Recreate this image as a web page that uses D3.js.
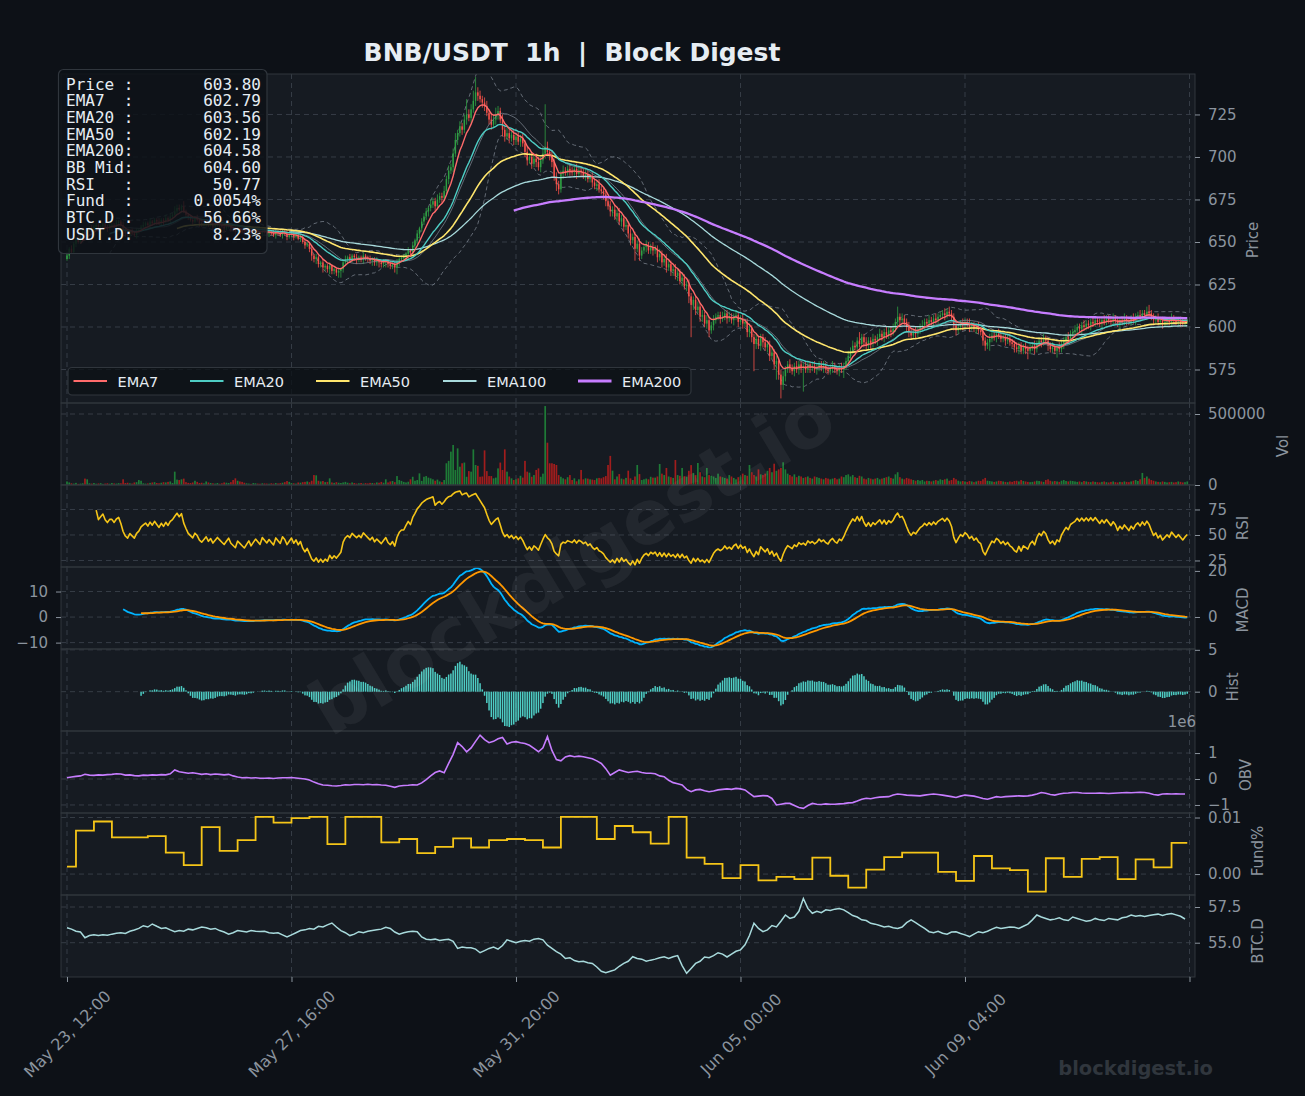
<!DOCTYPE html>
<html><head><meta charset="utf-8">
<script src="https://cdn.jsdelivr.net/npm/d3@7"></script>
<style>
html,body{margin:0;padding:0;background:#0d1117;}
svg{display:block;}
text{font-family:"DejaVu Sans",sans-serif;}
</style></head><body>
<svg id="chart" width="1305" height="1096"></svg>
<script>
// ---------------- DATA ----------------
const START_UTC = Date.UTC(2025, 4, 23, 12); // first candle: May 23, 12:00 (1h candles)
const OPEN0 = 640;
const CLOSE = [
642,646,644,649,652,650,654,656,653,657,
658,656,659,660,657,659,661,659,658,660,
660,659,661,662,660,657,655,654,656,655,
654,656,657,659,660,661,660,662,661,663,
662,661,663,662,664,663,665,666,668,670,
669,671,668,666,664,663,662,664,663,661,
660,661,662,660,661,659,660,661,660,659,
658,659,660,658,657,656,658,657,656,655,
656,657,655,656,657,656,655,657,656,655,
656,655,654,656,655,654,656,655,653,654,
655,653,654,652,653,650,648,649,646,642,
640,641,637,638,635,636,634,636,633,634,
632,633,634,638,640,641,640,642,641,640,
641,640,642,641,640,639,640,638,639,638,
637,638,639,637,636,637,635,638,640,641,
641,643,645,644,648,651,655,658,662,665,
668,670,672,674,671,675,677,676,680,687,
692,694,702,710,714,718,716,722,725,723,
728,733,738,736,734,732,730,726,722,719,
722,725,727,722,716,712,714,711,713,710,
712,709,711,708,703,698,700,696,699,697,
694,698,702,706,703,701,697,688,684,681,
690,692,691,693,692,691,693,690,692,691,
689,690,687,688,685,683,684,681,680,678,
674,671,668,669,665,667,662,664,659,660,
655,651,653,646,649,642,645,647,648,645,
647,645,646,641,643,638,640,635,637,633,
634,630,632,627,629,624,625,618,613,616,
610,612,606,607,602,604,598,601,604,606,
607,605,606,608,605,606,604,606,607,603,
605,602,603,597,599,594,590,593,589,594,
591,588,590,583,585,578,580,572,566,571,
575,578,576,574,577,575,578,576,577,575,
578,576,577,575,576,578,576,577,575,574,
576,577,575,574,576,575,577,580,583,586,
589,588,592,590,594,591,589,592,590,593,
592,594,596,594,597,595,598,597,599,603,
606,604,605,603,600,597,595,597,596,598,
600,601,603,602,604,603,605,604,606,607,
608,607,609,608,606,601,598,600,602,601,
603,602,600,601,599,600,598,597,592,589,
591,593,595,594,596,595,593,594,592,593,
591,590,588,587,589,586,588,587,586,588,
589,587,590,592,591,593,592,589,587,588,
586,588,587,590,592,594,593,596,597,598,
600,599,601,600,602,601,603,602,604,603,
602,604,603,605,604,603,605,604,602,604,
603,605,604,603,605,604,606,607,606,608,
607,609,608,606,604,605,603,604,602,603,
604,603,605,604,603,604,603,602,603,603.8];
// upper / lower wick length beyond the body (price units)
const HI_WICK = [
2,1,2,1,1,2,1,1,2,1, 1,2,1,1,2,1,1,2,1,1, 1,1,2,1,1,2,1,1,1,2, 1,2,1,1,2,1,1,2,1,1, 1,2,1,1,2,1,2,1,3,2,
2,1,3,1,1,2,1,1,2,1, 1,2,1,1,2,1,1,2,1,1, 1,1,2,1,1,2,1,1,2,1, 1,2,1,1,2,1,1,2,1,1, 1,1,2,1,1,2,1,1,2,1,
2,1,1,2,1,1,2,1,1,2, 1,2,1,1,2,1,1,2,1,1, 1,2,1,1,2,1,2,1,1,2, 1,1,2,1,1,2,1,1,2,1, 1,2,1,1,2,1,1,2,1,1,
2,1,2,1,2,1,2,1,2,2, 2,1,3,2,2,3,2,2,3,2, 3,2,3,4,2,3,2,3,9,3, 3,6,9,3,3,2,3,3,2,4, 3,4,3,2,3,2,3,2,2,3,
2,3,2,3,2,3,2,3,2,3, 3,2,4,25,3,2,3,2,3,2, 2,3,2,2,3,2,2,3,2,2, 2,3,2,2,3,2,2,3,2,2, 3,2,3,2,3,2,3,2,2,3,
2,3,2,3,2,3,2,2,3,2, 2,3,2,2,3,2,2,3,2,2, 2,3,2,2,3,2,2,3,2,2, 2,3,2,3,2,3,2,2,3,2, 2,2,3,2,2,3,2,2,3,2,
2,3,2,2,3,2,2,3,2,2, 2,3,2,2,3,2,3,2,3,3, 2,2,3,2,2,3,2,2,2,3, 2,2,2,3,2,2,2,3,2,2, 2,3,2,2,2,3,2,2,3,2,
3,2,2,5,2,2,3,2,2,3, 2,2,3,2,2,3,2,2,3,2, 6,2,3,2,2,3,2,2,3,2, 2,3,2,2,3,2,2,3,2,2, 2,3,2,3,2,2,3,2,2,3,
2,2,3,2,2,2,3,2,2,2, 2,3,2,2,2,3,2,2,2,3, 2,2,2,3,2,2,2,3,2,2, 2,3,2,2,2,3,2,2,2,3, 2,2,3,2,2,2,3,2,2,3,
2,2,2,3,2,2,2,3,2,2, 2,2,3,2,2,2,3,2,2,2, 2,3,2,2,2,3,2,2,3,2, 2,3,4,2,2,2,3,2,2,2, 2,2,3,2,2,2,2,3,2,1];
const LO_WICK = [
1,2,1,1,2,1,1,2,1,2, 1,1,2,1,1,2,1,1,2,1, 2,1,1,2,1,1,2,1,2,1, 1,2,1,1,2,1,1,2,1,1, 2,1,1,2,1,1,2,1,1,2,
1,2,1,2,1,1,2,1,1,2, 1,1,2,1,1,2,1,1,2,1, 2,1,1,2,1,3,1,2,1,1, 1,2,1,1,2,1,1,2,1,1, 2,1,1,2,1,1,2,1,2,1,
1,2,1,1,2,1,2,1,2,3, 2,3,2,2,3,2,2,3,2,2, 2,3,4,2,2,3,2,2,2,3, 2,2,3,2,2,2,3,2,2,3, 2,2,3,2,2,2,3,4,2,2,
2,2,3,2,2,2,2,3,2,2, 2,3,2,2,3,2,2,3,2,2, 3,2,3,2,3,2,3,2,3,2, 3,2,3,3,2,3,3,2,3,3, 2,3,3,2,4,3,2,3,2,3,
3,2,3,2,3,3,2,3,2,3, 2,3,2,3,2,3,3,2,4,3, 2,3,2,2,3,2,2,3,2,2, 2,3,2,2,3,2,3,2,2,3, 3,2,3,3,2,3,2,3,3,2,
3,3,2,7,2,3,2,2,3,2, 2,3,2,3,2,3,2,3,2,3, 3,2,3,2,3,2,3,4,19,3, 3,2,3,3,2,3,4,2,3,2, 2,3,2,2,3,2,2,3,2,3,
2,3,2,3,3,3,16,3,2,3, 3,2,3,3,2,3,9,3,8,3, 3,2,3,2,3,2,3,3,14,2, 2,3,2,2,3,2,2,3,2,2, 2,3,2,2,3,2,5,2,2,3,
2,2,3,2,2,3,2,2,3,2, 2,3,2,2,3,2,2,3,2,2, 2,3,2,2,3,3,2,2,3,2, 2,2,3,2,2,2,3,2,2,2, 2,3,2,2,2,3,3,2,2,3,
2,2,3,2,2,3,2,2,3,3, 2,5,2,2,3,2,2,2,3,2, 2,2,3,2,3,2,2,3,5,2, 2,3,2,2,3,2,2,3,2,2, 2,4,2,2,3,2,2,2,3,2,
2,2,3,2,2,2,3,2,2,2, 2,3,2,2,2,3,2,2,2,3, 2,2,3,2,2,2,3,2,2,2, 2,3,2,2,3,2,2,2,3,2, 2,2,3,2,2,2,3,2,2,1];
// hourly volume, thousands
const VOLUME_K = [
25,18,12,10,15,8,10,12,45,40, 12,10,14,9,11,13,8,10,12,9, 14,11,10,13,12,40,14,16,12,10, 18,20,35,30,12,10,11,15,18,20, 14,12,16,20,18,22,25,14,94,38,
35,40,45,20,15,14,18,30,22,14, 16,12,25,18,14,12,10,14,9,12, 18,16,14,20,35,47,30,25,22,16, 12,10,8,14,12,10,9,12,11,10, 9,12,10,14,11,13,16,20,28,22,
14,12,10,18,16,20,22,25,20,30, 70,68,30,25,28,20,22,47,18,15, 20,16,14,18,22,16,12,18,14,10, 12,14,10,13,11,15,14,12,18,16, 22,16,40,18,25,28,20,63,35,29,
22,18,23,40,58,30,35,82,29,58, 63,52,47,40,30,38,25,20,35,153, 170,235,282,106,258,129,153,158,58,98, 94,251,141,135,58,60,244,98,63,63, 47,52,117,158,106,251,94,60,47,35,
40,47,65,52,170,94,87,58,70,106, 117,58,80,556,298,153,153,148,141,70, 58,47,40,55,70,35,47,26,40,106, 40,47,45,40,38,35,47,50,47,55, 63,141,205,101,40,60,77,45,40,50,
101,47,35,60,141,77,35,40,45,40, 58,52,52,60,148,80,70,120,60,55, 50,176,70,65,120,62,58,100,140,85, 70,155,90,60,55,120,70,65,60,50, 80,60,55,50,45,70,60,50,40,55,
60,80,70,65,141,90,70,60,110,75, 70,80,100,120,90,150,100,110,120,160, 110,80,70,60,75,55,65,60,50,55, 60,50,45,60,55,50,45,40,50,45, 40,45,50,40,45,60,55,70,75,60,
70,55,50,65,60,45,40,50,45,40, 45,50,40,45,50,55,60,50,45,75, 90,55,45,40,50,45,40,35,30,35, 30,35,25,30,28,25,30,35,30,40, 35,40,45,30,35,50,40,30,25,28,
25,22,28,25,20,25,30,28,40,50, 30,28,25,22,25,30,28,25,22,20, 25,22,28,30,25,35,28,25,22,20, 22,25,30,28,25,22,35,40,30,25, 28,25,22,30,35,28,25,30,28,25,
22,25,20,28,25,22,20,25,22,20, 18,22,25,20,18,22,25,20,18,22, 20,25,22,20,25,30,35,28,40,85, 50,60,45,35,30,25,22,20,25,22, 18,20,22,18,20,25,22,18,20,25];
// OBV (millions), every 2 hours
const OBV_M_2H = [
0.05,0.08,0.10,0.12,0.18,0.15,0.14,0.16,0.15,0.17,
0.18,0.20,0.19,0.15,0.16,0.13,0.12,0.15,0.14,0.16,
0.15,0.17,0.16,0.20,0.35,0.28,0.25,0.22,0.24,0.21,
0.18,0.20,0.17,0.19,0.18,0.16,0.18,0.12,0.08,0.05,
0.06,0.04,0.05,0.03,0.03,0.04,0.02,0.04,0.05,0.05,
0.06,0.04,0.02,0.00,-0.04,-0.12,-0.18,-0.23,-0.24,-0.26,
-0.27,-0.25,-0.22,-0.23,-0.21,-0.21,-0.22,-0.20,-0.22,-0.21,
-0.23,-0.24,-0.28,-0.32,-0.27,-0.25,-0.24,-0.22,-0.23,-0.15,
-0.02,0.12,0.25,0.31,0.24,0.60,0.95,1.40,1.25,1.05,
1.20,1.45,1.69,1.52,1.40,1.45,1.55,1.60,1.35,1.42,
1.44,1.40,1.37,1.30,1.18,1.05,1.20,1.63,1.10,0.75,
0.70,0.85,0.90,0.86,0.88,0.86,0.82,0.78,0.70,0.60,
0.40,0.15,0.25,0.35,0.30,0.25,0.28,0.30,0.25,0.22,
0.22,0.20,0.12,0.09,-0.05,-0.14,-0.18,-0.23,-0.40,-0.49,
-0.42,-0.40,-0.45,-0.49,-0.46,-0.42,-0.40,-0.38,-0.40,-0.36,
-0.38,-0.42,-0.55,-0.68,-0.66,-0.64,-0.65,-0.75,-1.00,-0.97,
-0.94,-0.94,-1.02,-1.10,-1.13,-1.02,-0.94,-0.97,-0.98,-0.96,
-0.97,-0.97,-0.96,-0.95,-0.92,-0.91,-0.85,-0.78,-0.74,-0.76,
-0.72,-0.70,-0.69,-0.68,-0.62,-0.58,-0.60,-0.62,-0.63,-0.64,
-0.65,-0.62,-0.60,-0.58,-0.60,-0.62,-0.65,-0.68,-0.71,-0.66,
-0.62,-0.64,-0.66,-0.70,-0.75,-0.78,-0.73,-0.68,-0.70,-0.68,
-0.67,-0.66,-0.65,-0.66,-0.65,-0.62,-0.58,-0.52,-0.55,-0.60,
-0.62,-0.58,-0.55,-0.54,-0.52,-0.52,-0.54,-0.55,-0.55,-0.55,
-0.54,-0.55,-0.56,-0.55,-0.54,-0.53,-0.52,-0.53,-0.52,-0.51,
-0.52,-0.55,-0.60,-0.62,-0.58,-0.57,-0.58,-0.57,-0.58,-0.58];
// BTC dominance (%), every 2 hours
const BTCD_2H = [
56.05,55.95,55.80,55.75,55.35,55.50,55.55,55.50,55.55,55.52,
55.60,55.66,55.70,55.65,55.80,55.89,56.00,56.19,56.10,56.31,
56.15,56.00,56.05,55.90,55.77,55.85,55.80,55.95,55.90,56.00,
56.10,56.05,55.95,56.00,55.85,55.75,55.60,55.70,55.85,55.80,
55.75,55.85,55.80,55.78,55.80,55.70,55.66,55.70,55.55,55.40,
55.55,55.70,55.85,55.90,56.00,55.95,56.15,56.10,56.25,56.38,
56.10,55.85,55.70,55.50,55.60,55.77,55.70,55.80,55.85,55.90,
55.95,56.08,56.00,55.75,55.60,55.70,55.77,55.80,55.77,55.40,
55.24,55.20,55.25,55.15,55.20,55.24,55.10,54.60,54.70,54.65,
54.65,54.55,54.30,54.45,54.60,54.70,54.55,54.80,55.20,55.10,
55.00,55.10,55.15,55.10,55.25,55.30,55.20,54.83,54.60,54.37,
54.20,53.90,53.95,53.75,53.67,53.70,53.60,53.55,53.30,53.00,
52.90,53.00,53.10,53.35,53.55,53.70,54.02,53.90,53.85,53.70,
53.78,53.85,53.95,54.02,53.90,54.02,54.10,53.40,52.86,53.20,
53.55,53.70,54.00,53.95,54.10,54.30,54.20,54.00,54.20,54.40,
54.50,54.85,55.50,56.36,56.00,55.77,55.90,56.20,56.10,56.50,
56.94,56.70,56.80,57.20,58.10,57.40,57.06,57.20,57.10,57.30,
57.25,57.35,57.40,57.30,57.10,56.90,56.80,56.60,56.55,56.36,
56.30,56.20,56.10,56.15,56.05,56.00,56.10,56.40,56.60,56.40,
56.20,56.00,55.77,55.70,55.80,55.66,55.60,55.75,55.77,55.65,
55.55,55.43,55.60,55.77,55.70,55.80,55.95,56.08,56.00,56.05,
56.10,56.08,56.00,56.15,56.30,56.60,56.94,56.80,56.70,56.60,
56.65,56.75,56.60,56.55,56.80,56.70,56.60,56.50,56.55,56.70,
56.60,56.55,56.70,56.65,56.60,56.75,56.80,56.94,56.85,56.90,
56.83,56.90,56.95,57.00,56.90,57.00,57.05,56.95,56.85,56.66];
// funding rate (%), 8-hourly steps: start hour index and value
const FUND_START = [0,4,12,20,36,44,52,60,68,76,84,92,100,108,116,124,140,148,156,164,172,180,188,196,204,212,220,236,244,252,260,268,276,284,292,300,308,316,324,332,340,348,356,364,372,388,396,404,412,420,428,436,444,452,460,468,476,484,492];
const FUND_VAL = [0.0013,0.0077,0.0093,0.0065,0.0067,0.0038,0.0016,0.0083,0.0041,0.0060,0.0101,0.0091,0.0099,0.0101,0.0053,0.0101,0.0056,0.0062,0.0037,0.0048,0.0063,0.0047,0.0060,0.0062,0.0060,0.0047,0.0101,0.0062,0.0085,0.0074,0.0054,0.0101,0.0029,0.0018,-0.0007,0.0016,-0.0011,-0.0005,-0.0009,0.0029,-0.0003,-0.0024,0.0008,0.0030,0.0038,0.0004,-0.0012,0.0032,0.0010,0.0007,-0.0031,0.0028,-0.0005,0.0027,0.0030,-0.0009,0.0026,0.0012,0.0055];
// ticks / labels
const X_TICK_HOURS = [0,100,200,300,400,500];
const X_TICK_SHOW = [true,true,true,true,true,false];
const PRICE_TICKS = [575,600,625,650,675,700,725];
const VOL_TICKS = [0,500000];
const RSI_TICKS = [25,50,75];
const MACD_TICKS_L = [-10,0,10];
const MACD_TICKS_R = [0,20];
const HIST_TICKS = [0,5];
const OBV_TICKS = [-1,0,1];
const FUND_TICKS = [0,0.01];
const BTCD_TICKS = [55,57.5];
const LEGEND_NAMES = ["EMA7","EMA20","EMA50","EMA100","EMA200"];
const INFO_LABELS = ["Price :","EMA7  :","EMA20 :","EMA50 :","EMA200:","BB Mid:","RSI   :","Fund  :","BTC.D :","USDT.D:"];
const INFO_VALUES = ["603.80","602.79","603.56","602.19","604.58","604.60","50.77","0.0054%","56.66%","8.23%"];
const TITLE = "BNB/USDT  1h  |  Block Digest";

// ---------------- styles ----------------
const C = {bg:"#0d1117", ax:"#161b22", spine:"#30363d", grid:"#3a414b", tick:"#8b949e",
  up:"#2ea043", dn:"#f85149", vup:"#1e7b37", vdn:"#a11d1d",
  ema7:"#ff6b6b", ema20:"#4ecdc4", ema50:"#ffe66d", ema100:"#a8dadc", ema200:"#c77dff",
  bb:"#7d8590", rsi:"#f5c518", macd:"#00b4ff", sig:"#ff9800", hist:"#4ecdc4", obv:"#c77dff", fund:"#f5c518", btcd:"#a8dadc"};
const EMA_STYLE = {EMA7:[C.ema7,1.4],EMA20:[C.ema20,1.4],EMA50:[C.ema50,1.6],EMA100:[C.ema100,1.3],EMA200:[C.ema200,2.3]};

// ---------------- indicators ----------------
function ewm(src, alpha, minP){ let e=null,cnt=0; return src.map(v=>{ if(v==null) return null; e = e==null? v : alpha*v+(1-alpha)*e; cnt++; return cnt>=minP? e : null; }); }
const ema = (src,span)=>ewm(src,2/(span+1),span);
const N = CLOSE.length;
const OPEN = CLOSE.map((c,i)=> i? CLOSE[i-1] : OPEN0);
const HIGH = CLOSE.map((c,i)=> Math.max(c,OPEN[i]) + HI_WICK[i]);
const LOW = CLOSE.map((c,i)=> Math.min(c,OPEN[i]) - LO_WICK[i]);
const EMAS = {EMA7:ema(CLOSE,7),EMA20:ema(CLOSE,20),EMA50:ema(CLOSE,50),EMA100:ema(CLOSE,100),EMA200:ema(CLOSE,200)};
const BBM=[],BBU=[],BBL=[];
for(let i=0;i<N;i++){ if(i<19){BBM.push(null);BBU.push(null);BBL.push(null);continue;} const w=CLOSE.slice(i-19,i+1); const m=d3.mean(w), s=d3.deviation(w); BBM.push(m);BBU.push(m+2*s);BBL.push(m-2*s);}
const delta = CLOSE.map((c,i)=> i? c-CLOSE[i-1] : 0);
const ag = ewm(delta.map(d=>Math.max(d,0)),1/14,14), al = ewm(delta.map(d=>Math.max(-d,0)),1/14,14);
const RSI = ag.map((g,i)=> g==null? null : (al[i]===0?100:100-100/(1+g/al[i])));
const e12=ema(CLOSE,12), e26=ema(CLOSE,26);
const MACD = e12.map((v,i)=> (v==null||e26[i]==null)? null : v-e26[i]);
const SIGNAL = ewm(MACD,2/10,9);
const HIST = MACD.map((m,i)=> (m==null||SIGNAL[i]==null)? null : m-SIGNAL[i]);

// ---------------- layout ----------------
const W=1305, H=1096, L=61, R=1195;
const HOUR=3600e3;
const svg=d3.select('#chart');
svg.append('rect').attr('width',W).attr('height',H).attr('fill',C.bg);
const x=d3.scaleUtc().domain([new Date(START_UTC-2.67*HOUR), new Date(START_UTC+502.45*HOUR)]).range([L,R]);
const tAt=i=>new Date(START_UTC+i*HOUR);
const xi=i=>x(tAt(i));
const PANELS={price:[74,403],vol:[403,485],rsi:[485,567],macd:[567,649],hist:[649,731],obv:[731,813],fund:[813,895],btcd:[895,977]};
const Y={
 price:d3.scaleLinear().domain([555.3,748.8]).range([403,74]),
 vol:d3.scaleLinear().domain([0,577500]).range([485,403]),
 rsi:d3.scaleLinear().domain([18.6,99]).range([567,485]),
 macd:d3.scaleLinear().domain([-12.5,19.6]).range([649,567]),
 macdR:d3.scaleLinear().domain([-13.9,21.7]).range([649,567]),
 hist:d3.scaleLinear().domain([-4.7,5.1]).range([731,649]),
 obv:d3.scaleLinear().domain([-1.31,1.85]).range([813,731]),
 fund:d3.scaleLinear().domain([-0.0037,0.0108]).range([895,813]),
 btcd:d3.scaleLinear().domain([52.6,58.34]).range([977,895])};
const defs=svg.append('defs');
const G={};
Object.entries(PANELS).forEach(([k,[t,b]])=>{
  svg.append('rect').attr('x',L).attr('y',t).attr('width',R-L).attr('height',b-t).attr('fill',C.ax);
  defs.append('clipPath').attr('id','clip-'+k).append('rect').attr('x',L).attr('y',t).attr('width',R-L).attr('height',b-t);
  G[k]=svg.append('g').attr('clip-path','url(#clip-'+k+')');
  G[k].selectAll('line.vg').data(X_TICK_HOURS).join('line').attr('x1',d=>xi(d)).attr('x2',d=>xi(d)).attr('y1',t).attr('y2',b)
    .attr('stroke',C.grid).attr('stroke-width',0.9).attr('stroke-dasharray','5,4');
});
function hgrid(k,scale,vals){ G[k].selectAll(null).data(vals).join('line').attr('x1',L).attr('x2',R).attr('y1',d=>scale(d)).attr('y2',d=>scale(d))
  .attr('stroke',C.grid).attr('stroke-width',0.9).attr('stroke-dasharray','5,4'); }
hgrid('price',Y.price,PRICE_TICKS); hgrid('vol',Y.vol,VOL_TICKS); hgrid('rsi',Y.rsi,RSI_TICKS); hgrid('macd',Y.macd,MACD_TICKS_L);
hgrid('hist',Y.hist,HIST_TICKS); hgrid('obv',Y.obv,OBV_TICKS); hgrid('fund',Y.fund,FUND_TICKS); hgrid('btcd',Y.btcd,BTCD_TICKS);

const idx=d3.range(N);
const lineOf=(scale)=>d3.line().defined(d=>d[1]!=null).x(d=>xi(d[0])).y(d=>scale(d[1]));
function drawLine(k,scale,arr,color,w,extra){ const p=G[k].append('path').datum(arr.map((v,i)=>[i,v])).attr('d',lineOf(scale)).attr('fill','none').attr('stroke',color).attr('stroke-width',w).attr('stroke-linejoin','round'); if(extra) extra(p); return p; }

// ---- price panel ----
drawLine('price',Y.price,BBU,C.bb,1,p=>p.attr('stroke-dasharray','4,3').attr('opacity',0.75));
drawLine('price',Y.price,BBL,C.bb,1,p=>p.attr('stroke-dasharray','4,3').attr('opacity',0.75));
const cw=1.45;
G.price.selectAll('line.wick').data(idx).join('line').attr('x1',i=>xi(i)).attr('x2',i=>xi(i)).attr('y1',i=>Y.price(HIGH[i])).attr('y2',i=>Y.price(LOW[i]))
  .attr('stroke',i=>CLOSE[i]>=OPEN[i]?C.up:C.dn).attr('stroke-width',0.8);
G.price.selectAll('rect.body').data(idx).join('rect').attr('x',i=>xi(i)-cw/2).attr('width',cw)
  .attr('y',i=>Y.price(Math.max(OPEN[i],CLOSE[i]))).attr('height',i=>Math.max(0.8,Math.abs(Y.price(OPEN[i])-Y.price(CLOSE[i]))))
  .attr('fill',i=>CLOSE[i]>=OPEN[i]?C.up:C.dn);
drawLine('price',Y.price,BBM,C.bb,1,p=>p.attr('opacity',0.75));
["EMA100","EMA50","EMA20","EMA7","EMA200"].forEach(n=>drawLine('price',Y.price,EMAS[n],EMA_STYLE[n][0],EMA_STYLE[n][1]));

// ---- volume ----
const bw=1.7;
G.vol.selectAll('rect').data(idx).join('rect').attr('x',i=>xi(i)-bw/2).attr('width',bw)
  .attr('y',i=>Y.vol(VOLUME_K[i]*1000)).attr('height',i=>Y.vol(0)-Y.vol(VOLUME_K[i]*1000))
  .attr('fill',i=>CLOSE[i]>=OPEN[i]?C.vup:C.vdn);
// ---- RSI ----
drawLine('rsi',Y.rsi,RSI,C.rsi,1.6);
// ---- MACD ----
drawLine('macd',Y.macd,MACD,C.macd,1.8);
drawLine('macd',Y.macd,SIGNAL,C.sig,1.8);
// ---- Hist ----
G.hist.selectAll('rect').data(idx.filter(i=>HIST[i]!=null)).join('rect').attr('x',i=>xi(i)-0.75).attr('width',1.5)
  .attr('y',i=>Math.min(Y.hist(HIST[i]),Y.hist(0))).attr('height',i=>Math.abs(Y.hist(HIST[i])-Y.hist(0)))
  .attr('fill',C.hist);
// ---- OBV ----
G.obv.append('path').datum(OBV_M_2H.map((v,k)=>[2*k,v])).attr('d',lineOf(Y.obv)).attr('fill','none').attr('stroke',C.obv).attr('stroke-width',1.6);
// ---- Funding ----
const fpts=FUND_START.map((s,k)=>[s,FUND_VAL[k]]); fpts.push([N-1,FUND_VAL[FUND_VAL.length-1]]);
G.fund.append('path').datum(fpts).attr('d',lineOf(Y.fund).curve(d3.curveStepAfter)).attr('fill','none').attr('stroke',C.fund).attr('stroke-width',1.8);
// ---- BTC.D ----
G.btcd.append('path').datum(BTCD_2H.map((v,k)=>[2*k,v])).attr('d',lineOf(Y.btcd)).attr('fill','none').attr('stroke',C.btcd).attr('stroke-width',1.5);

// spines
Object.entries(PANELS).forEach(([k,[t,b]])=>{
  svg.append('rect').attr('x',L).attr('y',t).attr('width',R-L).attr('height',b-t).attr('fill','none').attr('stroke',C.spine).attr('stroke-width',1);
});

// axes
function styleAxis(g,fs){ g.select('.domain').remove(); g.selectAll('line').attr('stroke',C.tick); g.selectAll('text').attr('fill',C.tick).style('font-size',(fs||15)+'px').style('font-family','DejaVu Sans'); }
function rAxis(scale,vals,fmt){ svg.append('g').attr('transform',`translate(${R},0)`).call(d3.axisRight(scale).tickValues(vals).tickSize(5).tickPadding(8).tickFormat(fmt)).call(styleAxis); }
rAxis(Y.price,PRICE_TICKS,d3.format('d'));
rAxis(Y.vol,VOL_TICKS,d3.format('d'));
rAxis(Y.rsi,RSI_TICKS,d3.format('d'));
rAxis(Y.macdR,MACD_TICKS_R,d3.format('d'));
rAxis(Y.hist,HIST_TICKS,d3.format('d'));
rAxis(Y.obv,OBV_TICKS,d3.format('d'));
rAxis(Y.fund,FUND_TICKS,d3.format('.2f'));
rAxis(Y.btcd,BTCD_TICKS,d3.format('.1f'));
svg.append('g').attr('transform',`translate(${L},0)`).call(d3.axisLeft(Y.macd).tickValues(MACD_TICKS_L).tickSize(5).tickPadding(8).tickFormat(d3.format('d'))).call(styleAxis);
const fmtX=d3.utcFormat('%b %d, %H:%M');
const xg=svg.append('g').attr('transform','translate(0,977)').call(d3.axisBottom(x).tickValues(X_TICK_HOURS.map(tAt)).tickSize(5).tickFormat((d,k)=>X_TICK_SHOW[k]?fmtX(d):'')).call(g=>styleAxis(g,16));
xg.selectAll('text').attr('x',0).attr('y',0).attr('dy','0.35em').attr('text-anchor','middle').attr('transform','translate(0,57) rotate(-45)');
// offset text for OBV
svg.append('text').attr('x',1196).attr('y',727).attr('text-anchor','end').attr('fill',C.tick).style('font-size','15px').text('1e6');

// panel labels
const PLABELS=[["Price",1253,240],["Vol",1283,446],["RSI",1243,528],["MACD",1243,610],["Hist",1233,687],["OBV",1246,775],["Fund%",1258,851],["BTC.D",1258,941]];
svg.selectAll('text.pl').data(PLABELS).join('text').attr('transform',d=>`translate(${d[1]},${d[2]}) rotate(-90)`).attr('text-anchor','middle').attr('dy','0.35em')
  .attr('fill',C.tick).style('font-size','15px').text(d=>d[0]);

// title
svg.append('text').attr('x',572).attr('y',61).attr('text-anchor','middle').attr('fill','#e6edf3').style('font-size','25px').style('font-weight','bold').style('white-space','pre').text(TITLE);

// info box
svg.append('rect').attr('x',58.5).attr('y',69.5).attr('width',208.5).attr('height',184).attr('rx',5).attr('fill','#0d1117').attr('fill-opacity',0.86).attr('stroke',C.spine).attr('stroke-width',1.2);
INFO_LABELS.forEach((lab,k)=>{
  const yb=89.5+k*16.67;
  svg.append('text').attr('x',66).attr('y',yb).attr('fill','#e6edf3').style('font-family','DejaVu Sans Mono').style('font-size','16px').style('white-space','pre').text(lab);
  svg.append('text').attr('x',261).attr('y',yb).attr('text-anchor','end').attr('fill','#e6edf3').style('font-family','DejaVu Sans Mono').style('font-size','16px').text(INFO_VALUES[k]);
});

// legend
svg.append('rect').attr('x',68).attr('y',367.5).attr('width',623).attr('height',27.5).attr('rx',4).attr('fill','#0d1117').attr('fill-opacity',0.8).attr('stroke',C.spine).attr('stroke-width',1.2);
const LEG_X=[73.5,190,316,443,578];
LEGEND_NAMES.forEach((n,k)=>{
  svg.append('line').attr('x1',LEG_X[k]).attr('x2',LEG_X[k]+33.5).attr('y1',381).attr('y2',381).attr('stroke',EMA_STYLE[n][0]).attr('stroke-width',n==='EMA200'?3:2.2);
  svg.append('text').attr('x',LEG_X[k]+44).attr('y',386.5).attr('fill','#e6edf3').style('font-size','14.5px').text(n);
});

// watermarks
svg.append('text').attr('transform','translate(572,562) rotate(-31)').attr('text-anchor','middle').attr('dy','0.35em')
  .attr('fill','#ffffff').attr('fill-opacity',0.055).style('font-size','75px').style('font-weight','bold').text('blockdigest.io');
svg.append('text').attr('x',1213).attr('y',1075).attr('text-anchor','end').attr('fill','#30363d').style('font-size','19.5px').style('font-weight','bold').text('blockdigest.io');
</script>
</body></html>
